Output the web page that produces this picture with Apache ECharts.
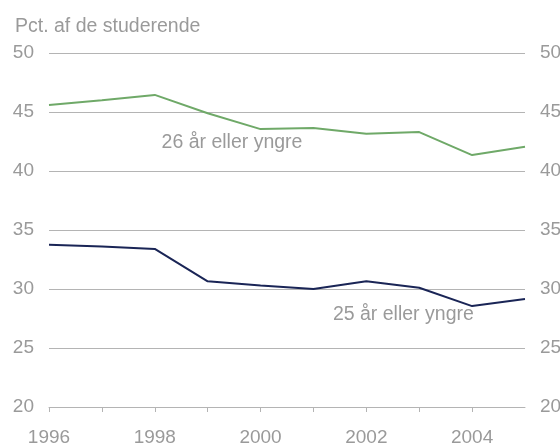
<!DOCTYPE html>
<html>
<head>
<meta charset="utf-8">
<script src="https://cdn.jsdelivr.net/npm/echarts@6/dist/echarts.min.js"></script>
<style>
	html, body { margin: 0; padding: 0; background: #fff; }
	#chart { width: 560px; height: 443px; }
</style>
</head>
<body>
<div id="chart"></div>
<script>
const years = [1996, 1997, 1998, 1999, 2000, 2001, 2002, 2003, 2004, 2005]
const under26 = [45.6, 46.0, 46.45, 44.9, 43.55, 43.65, 43.15, 43.3, 41.35, 42.05]
const under25 = [33.75, 33.6, 33.4, 30.65, 30.3, 30.0, 30.65, 30.1, 28.55, 29.15]
const yTicks = [20, 25, 30, 35, 40, 45, 50]
const xLabelYears = [1996, 1998, 2000, 2002, 2004]

const gray = '#9a9a9a'
const lineGray = '#b4b4b4'
const font = 'Liberation Sans, Arial, sans-serif'

const chart = echarts.init(document.getElementById('chart'))

const yAxisBase = {
	type: 'value',
	min: yTicks[0],
	max: yTicks[yTicks.length - 1],
	interval: 5,
	axisLine: { show: false },
	axisTick: { show: false },
	axisLabel: { color: gray, fontSize: 19, fontFamily: font, margin: 15 },
}

chart.setOption({
	animation: false,
	grid: { left: 49, right: 35, top: 53, bottom: 36, containLabel: false, outerBoundsMode: 'none' },
	title: {
		text: 'Pct. af de studerende',
		left: 10,
		top: 12,
		textStyle: { color: gray, fontSize: 19.5, fontWeight: 'normal', fontFamily: font },
	},
	xAxis: {
		type: 'value',
		min: years[0],
		max: years[years.length - 1],
		interval: 1,
		axisLine: { show: true, lineStyle: { color: lineGray, width: 1 } },
		axisTick: { show: true, length: 5, lineStyle: { color: lineGray } },
		splitLine: { show: false },
		axisLabel: {
			color: gray,
			fontSize: 19,
			fontFamily: font,
			margin: 21,
			showMaxLabel: false,
			formatter: v => xLabelYears.includes(v) ? String(v) : '',
		},
	},
	yAxis: [
		Object.assign({}, yAxisBase, {
			position: 'left',
			splitLine: { show: true, lineStyle: { color: lineGray, width: 1 } },
		}),
		Object.assign({}, yAxisBase, {
			position: 'right',
			splitLine: { show: false },
		}),
	],
	series: [
		{
			name: '26 år eller yngre',
			type: 'line',
			data: years.map((y, i) => [y, under26[i]]),
			symbol: 'none',
			lineStyle: { color: '#6fa968', width: 2 },
			markPoint: {
				symbol: 'circle',
				symbolSize: 0,
				data: [{ coord: [1999.46, 42.4] }],
				label: {
					show: true,
					position: 'inside',
					formatter: '26 år eller yngre',
					color: gray,
					fontSize: 19.5,
					fontFamily: font,
				},
			},
		},
		{
			name: '25 år eller yngre',
			type: 'line',
			data: years.map((y, i) => [y, under25[i]]),
			symbol: 'none',
			lineStyle: { color: '#1a2556', width: 2 },
			markPoint: {
				symbol: 'circle',
				symbolSize: 0,
				data: [{ coord: [2002.7, 27.8] }],
				label: {
					show: true,
					position: 'inside',
					formatter: '25 år eller yngre',
					color: gray,
					fontSize: 19.5,
					fontFamily: font,
				},
			},
		},
	],
})
</script>
</body>
</html>
